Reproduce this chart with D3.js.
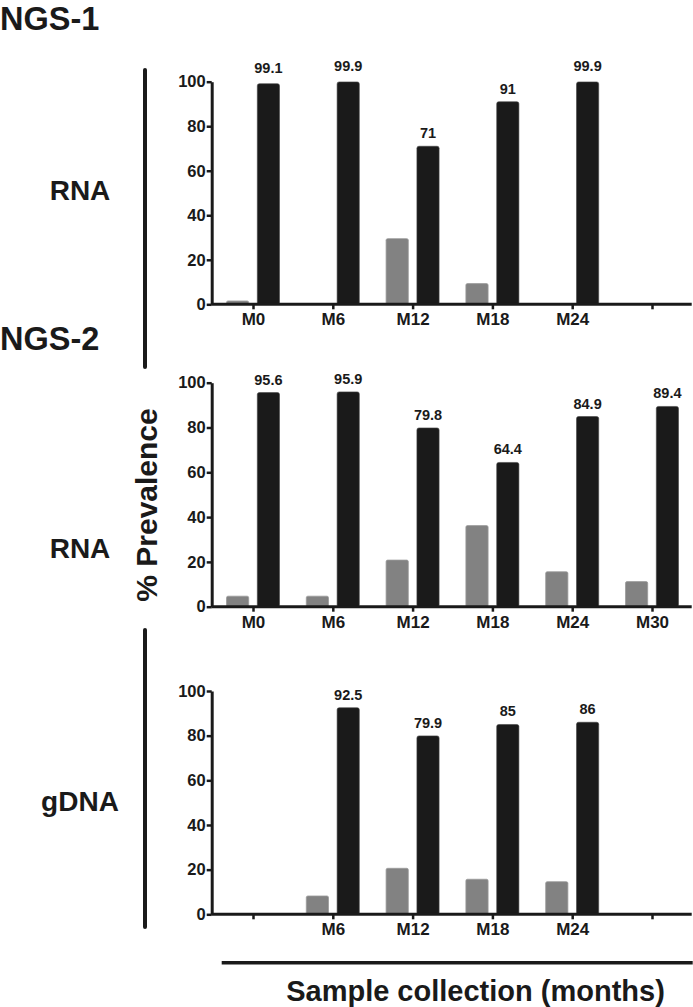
<!DOCTYPE html>
<html>
<head>
<meta charset="utf-8">
<script src="https://cdn.jsdelivr.net/npm/d3@7"></script>
<style>
  html, body { margin: 0; padding: 0; background: #fff; }
  svg { display: block; font-family: "Liberation Sans", Arial, sans-serif; font-weight: bold; }
</style>
</head>
<body>
<div id="chart"></div>
<script>
// ---- data ----
const categories = ["M0", "M6", "M12", "M18", "M24", "M30"];
const yTicks = [0, 20, 40, 60, 80, 100];

const ngs1RnaLabels = ["M0", "M6", "M12", "M18", "M24", ""];
const ngs1RnaGray   = [1.5, 0.3, 29.5, 9.3, 0.3, null];
const ngs1RnaBlack  = [99.1, 99.9, 71, 91, 99.9, null];

const ngs2RnaLabels = ["M0", "M6", "M12", "M18", "M24", "M30"];
const ngs2RnaGray   = [4.7, 4.7, 20.8, 36.2, 15.6, 11.2];
const ngs2RnaBlack  = [95.6, 95.9, 79.8, 64.4, 84.9, 89.4];

const ngs2DnaLabels = ["", "M6", "M12", "M18", "M24", ""];
const ngs2DnaGray   = [null, 8.2, 20.6, 15.7, 14.6, null];
const ngs2DnaBlack  = [null, 92.5, 79.9, 85, 86, null];

const panels = [
  { name: "RNA", labels: ngs1RnaLabels, gray: ngs1RnaGray, black: ngs1RnaBlack, top: 81.7, bottom: 304.3, labelY: 200 },
  { name: "RNA", labels: ngs2RnaLabels, gray: ngs2RnaGray, black: ngs2RnaBlack, top: 382.7, bottom: 606.7, labelY: 558 },
  { name: "gDNA", labels: ngs2DnaLabels, gray: ngs2DnaGray, black: ngs2DnaBlack, top: 691, bottom: 914.3, labelY: 811 }
];

// ---- layout ----
const W = 693, H = 1007;
const axisX = 211.7, axisEnd = 691.7;
const ink = "#1a1a1a";

const svg = d3.select("#chart").append("svg").attr("width", W).attr("height", H);

const x = d3.scalePoint().domain(categories).range([253, 652]);
const sub = d3.scaleBand().domain(["gray", "black"]).range([-26.5, 26.5]).paddingInner(0.28);

panels.forEach(p => {
  const y = d3.scaleLinear().domain([0, 100]).range([p.bottom, p.top]);
  const g = svg.append("g");

  // bars
  const rows = categories.map((c, i) => ({ c, gray: p.gray[i], black: p.black[i] }));
  g.selectAll("rect.gray").data(rows.filter(d => d.gray != null)).join("rect")
    .attr("class", "gray")
    .attr("x", d => x(d.c) + sub("gray"))
    .attr("width", sub.bandwidth())
    .attr("y", d => y(d.gray))
    .attr("height", d => y(0) - y(d.gray))
    .attr("rx", 1.5)
    .attr("fill", "#828282")
    .attr("stroke", "#9a9a9a").attr("stroke-width", 0.8);

  g.selectAll("rect.black").data(rows.filter(d => d.black != null)).join("rect")
    .attr("class", "black")
    .attr("x", d => x(d.c) + sub("black"))
    .attr("width", sub.bandwidth())
    .attr("y", d => y(d.black))
    .attr("height", d => y(0) - y(d.black))
    .attr("rx", 2)
    .attr("fill", ink)
    .attr("stroke", "#444").attr("stroke-width", 0.6);

  g.selectAll("text.val").data(rows.filter(d => d.black != null)).join("text")
    .attr("class", "val")
    .attr("x", d => x(d.c) + sub("black") + sub.bandwidth() / 2)
    .attr("y", d => y(d.black) - (d.black > 98 ? 10.5 : 8))
    .attr("text-anchor", "middle")
    .attr("font-size", 14.5)
    .attr("fill", ink)
    .text(d => d.black);

  // y axis
  const yAxis = d3.axisLeft(y).tickValues(yTicks).tickSize(5).tickSizeOuter(0).tickPadding(1);
  const ya = g.append("g").attr("transform", `translate(${axisX},0)`).call(yAxis);
  ya.select(".domain").attr("stroke", ink).attr("stroke-width", 3);
  ya.selectAll(".tick line").attr("stroke", ink).attr("stroke-width", 2.5);
  ya.selectAll(".tick text").attr("fill", ink).attr("font-size", 16.5).attr("font-family", "Liberation Sans, Arial, sans-serif").attr("font-weight", "bold");

  // x axis
  g.append("line")
    .attr("x1", axisX).attr("x2", axisEnd)
    .attr("y1", y(0)).attr("y2", y(0))
    .attr("stroke", ink).attr("stroke-width", 3);
  const xAxis = d3.axisBottom(x).tickSize(5).tickSizeOuter(0).tickPadding(4)
    .tickFormat((d, i) => p.labels[i]);
  const xa = g.append("g").attr("transform", `translate(0,${y(0)})`).call(xAxis);
  xa.select(".domain").remove();
  xa.selectAll(".tick line").attr("stroke", ink).attr("stroke-width", 2.5);
  xa.selectAll(".tick text").attr("fill", ink).attr("font-size", 17).attr("font-family", "Liberation Sans, Arial, sans-serif").attr("font-weight", "bold");

  // panel label
  svg.append("text")
    .attr("x", 80).attr("y", p.labelY)
    .attr("text-anchor", "middle")
    .attr("font-size", 28)
    .attr("fill", ink)
    .text(p.name);
});

// group labels
svg.append("text").attr("x", 0).attr("y", 29.5).attr("font-size", 32.5).attr("fill", ink).text("NGS-1");
svg.append("text").attr("x", 0).attr("y", 350).attr("font-size", 32.5).attr("fill", ink).text("NGS-2");

// brackets
svg.append("line").attr("x1", 145).attr("x2", 145).attr("y1", 70).attr("y2", 367)
  .attr("stroke", ink).attr("stroke-width", 4).attr("stroke-linecap", "round");
svg.append("line").attr("x1", 145).attr("x2", 145).attr("y1", 630).attr("y2", 927)
  .attr("stroke", ink).attr("stroke-width", 4).attr("stroke-linecap", "round");

// y title
svg.append("text")
  .attr("transform", "translate(157,505) rotate(-90)")
  .attr("text-anchor", "middle")
  .attr("font-size", 30)
  .attr("fill", ink)
  .text("% Prevalence");

// x title
svg.append("line").attr("x1", 221.7).attr("x2", 692.7).attr("y1", 962.7).attr("y2", 962.7)
  .attr("stroke", ink).attr("stroke-width", 3.5);
svg.append("text")
  .attr("x", 475.5).attr("y", 1001)
  .attr("text-anchor", "middle")
  .attr("font-size", 29)
  .attr("fill", ink)
  .text("Sample collection (months)");
</script>
</body>
</html>
